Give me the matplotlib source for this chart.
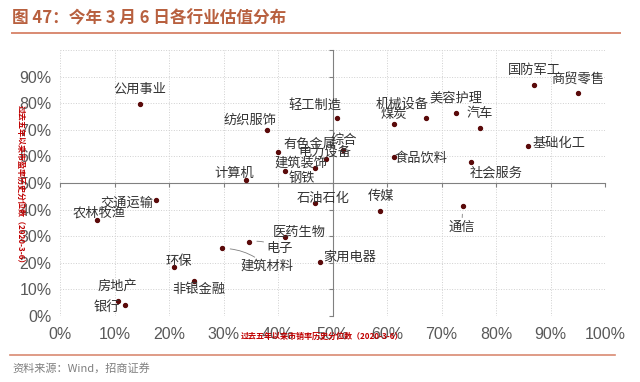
import matplotlib.pyplot as plt
from matplotlib.ticker import PercentFormatter, FuncFormatter
from matplotlib.lines import Line2D

plt.rcParams['font.family'] = ['Noto Sans CJK SC', 'DejaVu Sans']

# 行业、市销率分位数(x)、市盈率分位数(y)
industries = ['公用事业', '纺织服饰', '有色金属', '综合', '电力设备', '建筑装饰', '钢铁',
              '计算机', '轻工制造', '交通运输', '农林牧渔', '石油石化', '医药生物', '电子',
              '建筑材料', '家用电器', '环保', '非银金融', '房地产', '银行', '传媒', '通信',
              '煤炭', '机械设备', '美容护理', '汽车', '国防军工', '商贸零售', '基础化工',
              '食品饮料', '社会服务']
x_pct = [14.6, 38.0, 40.0, 52.0, 48.8, 46.8, 41.3,
         34.1, 50.8, 17.7, 6.7, 46.8, 41.3, 34.6,
         29.7, 47.7, 21.0, 24.6, 10.6, 11.9, 58.8, 73.9,
         61.2, 67.1, 72.7, 77.1, 87.0, 95.0, 85.9,
         61.2, 75.4]
y_pct = [79.7, 69.8, 61.5, 62.4, 58.9, 55.5, 54.5,
         51.1, 74.5, 43.6, 36.2, 42.6, 29.8, 27.9,
         25.4, 20.4, 18.3, 13.3, 5.8, 4.1, 39.4, 41.4,
         72.3, 74.5, 76.4, 70.6, 86.8, 83.9, 63.8,
         59.7, 57.9]

# 标签相对点的偏移(像素)
label_dx = [0, -17, 32, 0, -1, -14, 17,
            -12, -22, -30, 3, 8, 14, 31,
            45, 30, 4, 5, 0, -18, 1, -1,
            0, -24, 0, 0, 0, 0, 31,
            27, 25]
label_dy = [15, 10, 8, 10, 7, 5, -7,
            7, 13, -3, 7, 4, 4, -7,
            -18, 4, 6, -9, 14, -2, 15, -21,
            9, 14, 15, 15, 15, 14, 3,
            -1, -11]
leaders = ['电子', '建筑材料', '通信']

xs = [v / 100 for v in x_pct]
ys = [v / 100 for v in y_pct]

fig = plt.figure(figsize=(6.4, 3.82), dpi=100)
ax = fig.add_axes([60 / 640, 66 / 382, 545 / 640, 266 / 382])
ax.set_xlim(0, 1)
ax.set_ylim(0, 1)

ticks = [i / 10 for i in range(11)]
ax.set_xticks(ticks)
ax.set_yticks(ticks)
ax.grid(True, color='#d0d0d0', linestyle=':', linewidth=0.7)
ax.set_axisbelow(True)

# 中心十字轴
for s in ['top', 'right']:
    ax.spines[s].set_visible(False)
ax.spines['left'].set_position(('data', 0.5))
ax.spines['bottom'].set_position(('data', 0.5))
ax.spines['left'].set_color('#808080')
ax.spines['bottom'].set_color('#808080')
ax.tick_params(length=3, color='#808080', labelleft=False, labelbottom=False)

# 边缘刻度标签
secx = ax.secondary_xaxis(0.0)
secx.set_xticks(ticks)
secx.xaxis.set_major_formatter(PercentFormatter(1.0, decimals=0))
secx.spines['bottom'].set_visible(False)
secx.tick_params(length=0, pad=8, labelsize=11.5, labelcolor='#595959')
secy = ax.secondary_yaxis(0.0)
secy.set_yticks(ticks[:-1])
secy.yaxis.set_major_formatter(PercentFormatter(1.0, decimals=0))
secy.spines['left'].set_visible(False)
secy.tick_params(length=0, pad=6, labelsize=11.5, labelcolor='#595959')
for t in secx.get_xticklabels() + secy.get_yticklabels():
    t.set_family(['Liberation Sans', 'DejaVu Sans'])

ax.scatter(xs, ys, s=8, color='#5a0a0a', zorder=3)

for name, x, y, dx, dy in zip(industries, xs, ys, label_dx, label_dy):
    kw = {}
    if name in leaders:
        kw['arrowprops'] = dict(arrowstyle='-', color='#7f7f7f', lw=0.6,
                                shrinkA=0, shrinkB=6,
                                connectionstyle='arc3,rad=0.2' if name != '通信' else 'arc3')
    ax.annotate(name, (x, y), xytext=(dx, dy), textcoords='offset pixels',
                ha='center', va='center', fontsize=9.5, color='#333333', **kw)

# 轴标题(红色小字)
fig.text(322 / 640, 1 - 336 / 382, '过去五年以来市销率历史分位数（2020-3-6）',
         ha='center', va='center', fontsize=5.8, color='#c00000', fontweight='bold')
fig.text(20 / 640, 1 - 186 / 382, '过去五年以来市盈率历史分位数（2020-3-6）',
         ha='center', va='center', fontsize=5.8, color='#c00000', fontweight='bold',
         rotation=-90)

# 标题与来源
fig.text(12 / 640, 1 - 18 / 382, '图 47：今年 3 月 6 日各行业估值分布',
         ha='left', va='center', fontsize=12, color='#b8603f', fontweight='bold')
fig.add_artist(Line2D([12 / 640, 620 / 640], [1 - 33 / 382, 1 - 33 / 382],
                      color='#d98a72', lw=1.4))
fig.add_artist(Line2D([10 / 640, 615 / 640], [1 - 355 / 382, 1 - 355 / 382],
                      color='#d98a72', lw=1.2))
fig.text(12 / 640, 1 - 368 / 382, '资料来源：Wind，招商证券',
         ha='left', va='center', fontsize=8, color='#7f7f7f')

fig.savefig('out.png', dpi=100)
